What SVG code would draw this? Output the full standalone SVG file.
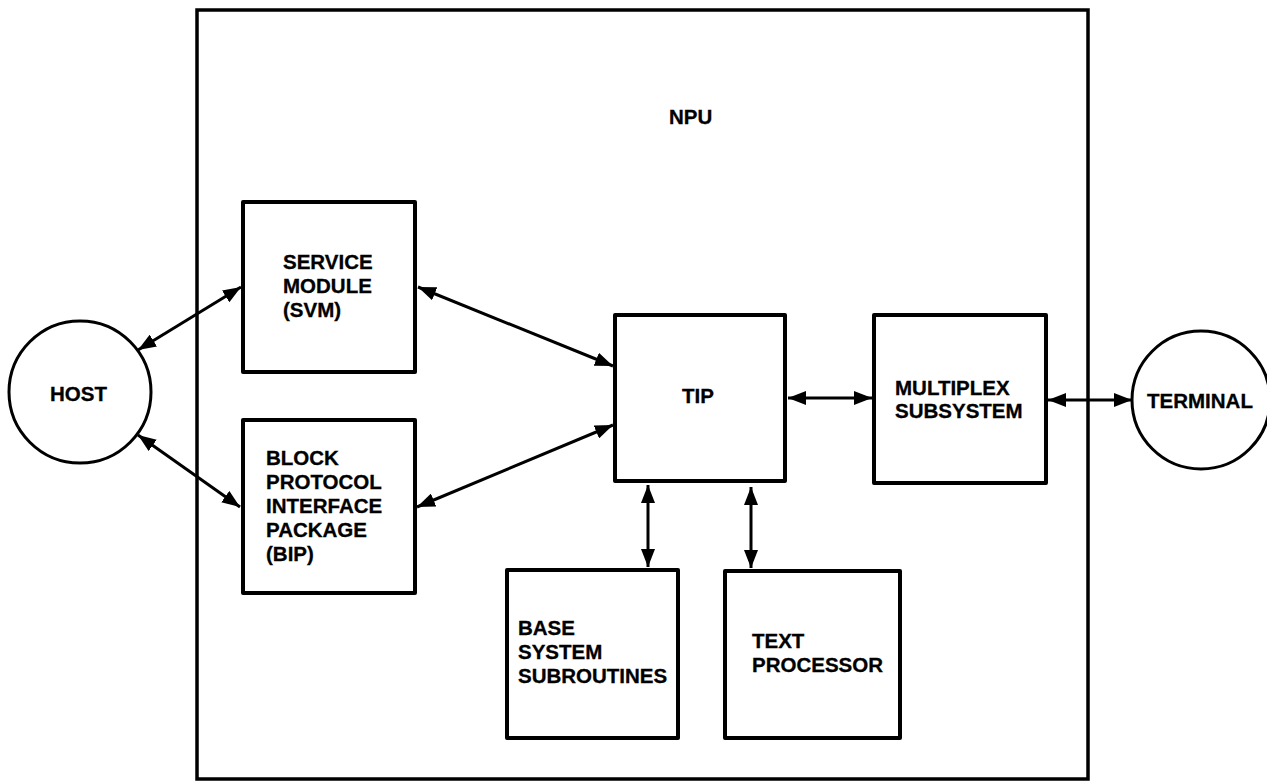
<svg xmlns="http://www.w3.org/2000/svg" width="1267" height="781" viewBox="0 0 1267 781">
<style>
.box{fill:#fff;stroke:#000;stroke-width:4;stroke-linejoin:round}
.outer{fill:#fff;stroke:#000;stroke-width:3.5}
.circ{fill:#fff;stroke:#000;stroke-width:3}
.lbl{font-family:"Liberation Sans",Arial,Helvetica,sans-serif;font-weight:bold;font-size:20.5px;fill:#000;stroke:#000;stroke-width:0.3}
.conn{stroke:#000;stroke-width:3;fill:none;marker-start:url(#ah);marker-end:url(#ah)}
</style>
<defs>
<marker id="ah" viewBox="0 0 18 14" refX="18" refY="7" markerWidth="18" markerHeight="14" markerUnits="userSpaceOnUse" orient="auto-start-reverse">
<path d="M0,0 L18,7 L0,14 Z" fill="#000"/>
</marker>
</defs>
<rect width="1267" height="781" fill="#fff"/>
<g id="npu">
<rect class="outer" x="197" y="10" width="891" height="769"/>
<text class="lbl" x="669" y="124">NPU</text>
</g>
<g id="host">
<circle class="circ" cx="80" cy="392" r="71"/>
<text class="lbl" x="50" y="401">HOST</text>
</g>
<g id="terminal">
<circle class="circ" cx="1201" cy="400" r="69"/>
<text class="lbl" x="1147" y="408">TERMINAL</text>
</g>
<g id="svm">
<rect class="box" x="243" y="202" width="172" height="170"/>
<text class="lbl" x="283" y="269">SERVICE</text>
<text class="lbl" x="283" y="293">MODULE</text>
<text class="lbl" x="283" y="317">(SVM)</text>
</g>
<g id="bip">
<rect class="box" x="243" y="420" width="172" height="173"/>
<text class="lbl" x="266" y="465">BLOCK</text>
<text class="lbl" x="266" y="489">PROTOCOL</text>
<text class="lbl" x="266" y="513">INTERFACE</text>
<text class="lbl" x="266" y="537">PACKAGE</text>
<text class="lbl" x="266" y="561">(BIP)</text>
</g>
<g id="tip">
<rect class="box" x="615" y="315" width="170" height="166"/>
<text class="lbl" x="682" y="403">TIP</text>
</g>
<g id="mux">
<rect class="box" x="874" y="315" width="172" height="168"/>
<text class="lbl" x="895" y="395">MULTIPLEX</text>
<text class="lbl" x="895" y="418">SUBSYSTEM</text>
</g>
<g id="bss">
<rect class="box" x="507" y="570" width="171" height="168"/>
<text class="lbl" x="518" y="635">BASE</text>
<text class="lbl" x="518" y="659">SYSTEM</text>
<text class="lbl" x="518" y="683">SUBROUTINES</text>
</g>
<g id="textproc">
<rect class="box" x="725" y="571" width="175" height="167"/>
<text class="lbl" x="752" y="648">TEXT</text>
<text class="lbl" x="752" y="672">PROCESSOR</text>
</g>
<g id="connectors">
<line class="conn" x1="138" y1="350" x2="241" y2="287"/>
<line class="conn" x1="138" y1="435" x2="240" y2="507"/>
<line class="conn" x1="418" y1="287" x2="613" y2="366"/>
<line class="conn" x1="417" y1="507" x2="613" y2="425"/>
<line class="conn" x1="788" y1="398" x2="872" y2="398"/>
<line class="conn" x1="1048" y1="400" x2="1132" y2="400"/>
<line class="conn" x1="648" y1="485" x2="648" y2="567"/>
<line class="conn" x1="751" y1="487" x2="751" y2="568"/>
</g>
</svg>
